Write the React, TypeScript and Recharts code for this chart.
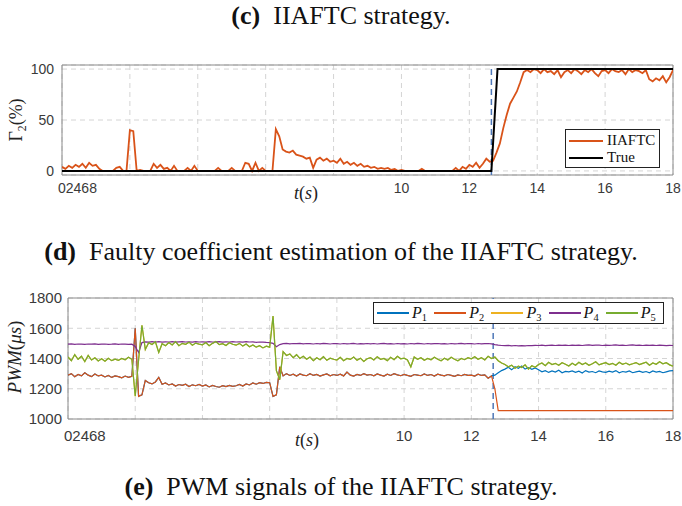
import {
  CartesianGrid,
  Legend,
  Line,
  LineChart,
  ReferenceArea,
  ReferenceLine,
  XAxis,
  YAxis,
} from "recharts";

// time grid (s), one sample every 0.1 s
const time = [
  0, 0.1, 0.2, 0.3, 0.4, 0.5, 0.6, 0.7, 0.8, 0.9,
  1, 1.1, 1.2, 1.3, 1.4, 1.5, 1.6, 1.7, 1.8, 1.9,
  2, 2.1, 2.2, 2.3, 2.4, 2.5, 2.6, 2.7, 2.8, 2.9,
  3, 3.1, 3.2, 3.3, 3.4, 3.5, 3.6, 3.7, 3.8, 3.9,
  4, 4.1, 4.2, 4.3, 4.4, 4.5, 4.6, 4.7, 4.8, 4.9,
  5, 5.1, 5.2, 5.3, 5.4, 5.5, 5.6, 5.7, 5.8, 5.9,
  6, 6.1, 6.2, 6.3, 6.4, 6.5, 6.6, 6.7, 6.8, 6.9,
  7, 7.1, 7.2, 7.3, 7.4, 7.5, 7.6, 7.7, 7.8, 7.9,
  8, 8.1, 8.2, 8.3, 8.4, 8.5, 8.6, 8.7, 8.8, 8.9,
  9, 9.1, 9.2, 9.3, 9.4, 9.5, 9.6, 9.7, 9.8, 9.9,
  10, 10.1, 10.2, 10.3, 10.4, 10.5, 10.6, 10.7, 10.8, 10.9,
  11, 11.1, 11.2, 11.3, 11.4, 11.5, 11.6, 11.7, 11.8, 11.9,
  12, 12.1, 12.2, 12.3, 12.4, 12.5, 12.6, 12.7, 12.8, 12.9,
  13, 13.1, 13.2, 13.3, 13.4, 13.5, 13.6, 13.7, 13.8, 13.9,
  14, 14.1, 14.2, 14.3, 14.4, 14.5, 14.6, 14.7, 14.8, 14.9,
  15, 15.1, 15.2, 15.3, 15.4, 15.5, 15.6, 15.7, 15.8, 15.9,
  16, 16.1, 16.2, 16.3, 16.4, 16.5, 16.6, 16.7, 16.8, 16.9,
  17, 17.1, 17.2, 17.3, 17.4, 17.5, 17.6, 17.7, 17.8, 17.9,
  18,
];

// (d) estimated faulty coefficient Gamma_2 (%)
const gammaEst = [
  4, 2, 5, 3, 6, 4, 7, 3, 8, 5,
  6, 2, 0, 0, 0, 0, 3, 4, 0, 0,
  40, 39, 0, 1, 0, 0, 0, 7, 3, 6,
  2, 3, 0, 5, 0, 0, 0, 3, 0, 5,
  0, 0, 0, 0, 0, 0, 3, 0, 0, 0,
  3, 0, 0, 0, 8, 7, 0, 8, 0, 3,
  0, 0, 0, 41, 34, 21, 19, 18, 20, 16,
  15, 14, 12, 13, 3, 11, 13, 10, 12, 9,
  10, 8, 12, 7, 9, 6, 8, 5, 7, 4,
  5, 3, 4, 2, 3, 2, 3, 1, 2, 0,
  1, 0, 0, 0, 0, 0, 2, 0, 0, 0,
  0, 0, 0, 0, 0, 0, 3, 0, 4, 2,
  6, 4, 8, 3, 7, 12, 9, 10, 18, 27,
  42, 55, 66, 72, 78, 87, 97, 99, 97, 100,
  99, 96, 100, 97, 98, 95, 99, 92, 97, 99,
  96, 100, 98, 95, 99, 97, 100, 96, 93, 98,
  99, 96, 100, 98, 97, 99, 95, 100, 97, 99,
  98, 96, 99, 90, 88, 91, 89, 93, 87, 92,
  99,
];

// true coefficient
const trueTime = [0, 12.65, 12.83, 18];
const trueValue = [0, 0, 100, 100];

// (e) PWM signals (us)
const p2 = [
  1290, 1300, 1280, 1295, 1285, 1305, 1290, 1280, 1298, 1285,
  1290, 1278, 1288, 1275, 1285, 1280, 1272, 1284, 1276, 1282,
  1600, 1150, 1160, 1255, 1240, 1232, 1245, 1275, 1230, 1238,
  1225, 1232, 1218, 1228, 1222, 1230, 1215, 1226, 1220, 1228,
  1218, 1225, 1212, 1222, 1215, 1210, 1220, 1214, 1222, 1216,
  1220, 1228, 1218, 1232, 1225, 1238, 1230, 1240, 1235, 1242,
  1240, 1150, 1160, 1345, 1285, 1300, 1288, 1296, 1284, 1298,
  1290, 1286, 1300, 1288, 1295, 1284, 1292, 1298, 1286, 1294,
  1288, 1296, 1285, 1310, 1290, 1284, 1295, 1288, 1300, 1290,
  1294, 1286, 1298, 1290, 1284, 1296, 1288, 1300, 1292, 1286,
  1295, 1288, 1282, 1294, 1290, 1286, 1298, 1288, 1294, 1284,
  1296, 1290, 1285, 1294, 1288, 1282, 1292, 1286, 1295, 1288,
  1290, 1284, 1296, 1288, 1292, 1270, 1285, 1200, 1055, 1055,
  1055, 1055, 1055, 1055, 1055, 1055, 1055, 1055, 1055, 1055,
  1055, 1055, 1055, 1055, 1055, 1055, 1055, 1055, 1055, 1055,
  1055, 1055, 1055, 1055, 1055, 1055, 1055, 1055, 1055, 1055,
  1055, 1055, 1055, 1055, 1055, 1055, 1055, 1055, 1055, 1055,
  1055, 1055, 1055, 1055, 1055, 1055, 1055, 1055, 1055, 1055,
  1055,
];

const p4 = [
  1495, 1497, 1494, 1496, 1495, 1493, 1496, 1495, 1497, 1494,
  1495, 1496, 1494, 1495, 1497, 1494, 1496, 1495, 1493, 1495,
  1480, 1440, 1505, 1510, 1508, 1511, 1509, 1512, 1508, 1510,
  1509, 1511, 1508, 1510, 1512, 1509, 1510, 1508, 1511, 1509,
  1510, 1508, 1511, 1509, 1510, 1512, 1508, 1510, 1509, 1511,
  1509, 1510, 1508, 1511, 1509, 1510, 1507, 1509, 1508, 1506,
  1505, 1500, 1478, 1492, 1498, 1500, 1497, 1499, 1498, 1500,
  1497, 1499, 1498, 1496, 1499, 1497, 1500, 1498, 1496, 1499,
  1498, 1496, 1499, 1497, 1498, 1500, 1496, 1498, 1497, 1499,
  1497, 1499, 1496, 1498, 1500, 1497, 1498, 1496, 1499, 1497,
  1498, 1496, 1499, 1497, 1500, 1498, 1496, 1499, 1497, 1498,
  1499, 1497, 1498, 1496, 1499, 1497, 1498, 1500, 1497, 1499,
  1498, 1496, 1499, 1497, 1498, 1499, 1497, 1492, 1488, 1486,
  1485, 1487, 1484, 1486, 1483, 1485, 1484, 1486, 1485, 1487,
  1486, 1488, 1485, 1487, 1489, 1486, 1488, 1487, 1489, 1486,
  1488, 1487, 1489, 1486, 1488, 1490, 1487, 1489, 1488, 1486,
  1489, 1487, 1488, 1490, 1487, 1489, 1486, 1488, 1490, 1487,
  1488, 1486, 1489, 1487, 1488, 1486, 1489, 1487, 1485, 1487,
  1486,
];

const p5 = [
  1410, 1385, 1425, 1395, 1415, 1380, 1420, 1390, 1405, 1384,
  1398, 1382, 1402, 1386, 1396, 1388, 1400, 1392, 1408, 1395,
  1150, 1390, 1620, 1460, 1505, 1492, 1510, 1440, 1498, 1485,
  1505, 1490, 1512, 1485, 1500, 1494, 1508, 1488, 1502, 1495,
  1490, 1506, 1485, 1500, 1512, 1492, 1498, 1486, 1504, 1494,
  1488, 1500, 1482, 1496, 1478, 1490, 1475, 1485, 1470, 1482,
  1475, 1680, 1320, 1260, 1445, 1420, 1430, 1405, 1425, 1400,
  1415, 1395, 1410, 1385, 1405, 1392, 1412, 1388, 1402, 1395,
  1390, 1408, 1385, 1400, 1394, 1410, 1388, 1402, 1380, 1398,
  1405, 1390, 1412, 1395, 1400, 1386, 1408, 1392, 1415, 1398,
  1402, 1390, 1345, 1410, 1395, 1405, 1388, 1400, 1392, 1408,
  1395, 1385, 1402, 1390, 1408, 1395, 1385, 1400, 1392, 1405,
  1398, 1412, 1395, 1405, 1390, 1415, 1400, 1410, 1385, 1370,
  1360, 1345, 1355, 1335, 1350, 1340, 1358, 1330, 1352, 1342,
  1360, 1370, 1352, 1375, 1360, 1368, 1355, 1372, 1362, 1350,
  1368, 1356, 1375, 1360, 1370, 1355, 1365, 1378, 1358, 1366,
  1372, 1360, 1368, 1355, 1375, 1362, 1370, 1358, 1365, 1373,
  1360, 1368, 1375, 1356, 1370, 1362, 1378, 1365, 1372, 1358,
  1350,
];

// P1 runs under P2 until the fault (t = 12.7 s onward read separately)
const p1AfterFault = [
  1290, 1305, 1320,
  1330, 1342, 1325, 1345, 1335, 1350, 1330, 1340, 1328, 1338,
  1325, 1312, 1320, 1308, 1318, 1310, 1322, 1306, 1315, 1312,
  1318, 1308, 1316, 1304, 1320, 1310, 1314, 1306, 1318, 1312,
  1308, 1316, 1310, 1320, 1305, 1314, 1310, 1318, 1306, 1312,
  1316, 1308, 1314, 1305, 1318, 1310, 1315, 1306, 1312, 1318,
  1320,
];
const p1 = [...p2.slice(0, 127), ...p1AfterFault];
// P3 is identical to P5 and hidden beneath it
const p3 = p5;

const xTicks = [0, 2, 4, 6, 8, 10, 12, 14, 16, 18];
const xTickLabels = ["02468", "", "", "", "", "10", "12", "14", "16", "18"];
const gammaTicks = [0, 50, 100];
const pwmTicks = [1000, 1200, 1400, 1600, 1800];
const faultTime = 12.65;

const SANS = "'Liberation Sans', Arial, Helvetica, sans-serif";
const SERIF = "'Liberation Serif', 'Times New Roman', serif";
const TICK = "#3a3a3a";
const BOX = "#8a8a8a";
const GRID = "#d4d4d4";
const COLORS = {
  p1: "#0072BD",
  p2: "#D95319",
  p3: "#EDB120",
  p4: "#7E2F8E",
  p5: "#77AC30",
};

const estRows = time.map((t, i) => ({ t, v: gammaEst[i] }));
const trueRows = trueTime.map((t, i) => ({ t, v: trueValue[i] }));
const pwmRows = time.map((t, i) => ({
  t,
  p1: p1[i],
  p2: p2[i],
  p3: p3[i],
  p4: p4[i],
  p5: p5[i],
}));

function timeTick(fontSize: number) {
  return (props: any) => {
    const { x, y, payload } = props;
    const idx = xTicks.indexOf(payload.value);
    const label = idx >= 0 ? xTickLabels[idx] : String(payload.value);
    if (!label) return <g />;
    const first = idx === 0;
    return (
      <text
        x={first ? x - 4 : x}
        y={y}
        dy="0.71em"
        textAnchor={first ? "start" : "middle"}
        fontSize={fontSize}
        fontFamily={SANS}
        fill={TICK}
      >
        {label}
      </text>
    );
  };
}

function Caption({ top, tag, text }: { top: number; tag: string; text: string }) {
  return (
    <div
      style={{
        position: "absolute",
        top,
        left: 0,
        width: 682,
        textAlign: "center",
        fontFamily: SERIF,
        fontSize: 26,
        lineHeight: "30px",
        whiteSpace: "pre",
        color: "#111",
      }}
    >
      <b>{tag}</b>
      {"  " + text}
    </div>
  );
}

function Overlay({ x, y, rotate, size, children }: any) {
  return (
    <div
      style={{
        position: "absolute",
        left: x,
        top: y,
        transform: `translate(-50%, -50%)${rotate ? " rotate(-90deg)" : ""}`,
        fontFamily: SERIF,
        fontSize: size,
        whiteSpace: "nowrap",
        color: "#222",
        lineHeight: 1,
      }}
    >
      {children}
    </div>
  );
}

const Sub = ({ children }: any) => (
  <span style={{ fontSize: "0.65em", position: "relative", top: "0.3em", fontStyle: "normal" }}>{children}</span>
);

function estLegend() {
  return (props: any) => (
    <div
      style={{
        border: "1.2px solid #222",
        background: "#fff",
        width: 95,
        height: 39,
        boxSizing: "border-box",
        padding: "2px 0 0 3px",
      }}
    >
      {(props.payload || []).map((e: any) => (
        <div key={e.value} style={{ display: "flex", alignItems: "center", height: 17 }}>
          <div style={{ width: 34, height: 2, background: e.color, marginRight: 4 }} />
          <span style={{ fontFamily: SERIF, fontSize: 15, color: "#111" }}>{e.value}</span>
        </div>
      ))}
    </div>
  );
}

function pwmLegend() {
  return (props: any) => (
    <div
      style={{
        border: "1.2px solid #222",
        background: "#fff",
        width: 291,
        height: 22,
        boxSizing: "border-box",
        display: "flex",
        alignItems: "center",
        paddingLeft: 3,
      }}
    >
      {(props.payload || []).map((e: any) => (
        <div key={e.value} style={{ display: "flex", alignItems: "center", width: 58 }}>
          <div style={{ width: 32, height: 1.5, background: e.color, marginRight: 3 }} />
          <span style={{ fontFamily: SERIF, fontSize: 16, fontStyle: "italic", color: "#111", lineHeight: 1 }}>
            {e.value.slice(0, 1)}
            <Sub>{e.value.slice(1)}</Sub>
          </span>
        </div>
      ))}
    </div>
  );
}

export default function App() {
  return (
    <div
      style={{
        position: "absolute",
        left: 0,
        top: 0,
        width: 682,
        height: 506,
        background: "#fff",
        overflow: "hidden",
      }}
    >
      <Caption top={1} tag="(c)" text="IIAFTC strategy." />

      <div style={{ position: "absolute", left: 0, top: 55 }}>
        <LineChart width={682} height={152} margin={{ top: 10, right: 9, bottom: 0, left: 0 }}>
          <CartesianGrid stroke={GRID} strokeDasharray="5 4" />
          <XAxis
            type="number"
            dataKey="t"
            domain={[0, 18]}
            ticks={xTicks}
            tick={timeTick(14)}
            tickSize={0}
            tickMargin={8}
            axisLine={false}
            height={32}
            allowDataOverflow
          />
          <YAxis
            type="number"
            domain={[-4, 104]}
            ticks={gammaTicks}
            width={62}
            tickSize={0}
            tickMargin={8}
            axisLine={false}
            tick={{ fontSize: 14, fontFamily: SANS, fill: TICK }}
            allowDataOverflow
          />
          <ReferenceLine x={faultTime} stroke="#4f78b8" strokeWidth={1.5} strokeDasharray="6 4" />
          <Line
            data={estRows}
            dataKey="v"
            name="IIAFTC"
            stroke={COLORS.p2}
            strokeWidth={1.8}
            dot={false}
            isAnimationActive={false}
          />
          <Line
            data={trueRows}
            dataKey="v"
            name="True"
            stroke="#000"
            strokeWidth={2}
            dot={false}
            isAnimationActive={false}
          />
          <ReferenceArea x1={0} x2={18} y1={-4} y2={104} fill="none" stroke={BOX} strokeWidth={1} />
          <Legend
            layout="vertical"
            align="center"
            verticalAlign="middle"
            content={estLegend()}
            wrapperStyle={{ left: 565, top: 74, width: 95, height: 39 }}
          />
        </LineChart>
      </div>
      <Overlay x={16} y={120} rotate size={18}>
        Γ<Sub>2</Sub>(%)
      </Overlay>
      <Overlay x={306} y={193} size={18}>
        <i>t</i>(<i>s</i>)
      </Overlay>

      <Caption top={237} tag="(d)" text="Faulty coefficient estimation of the IIAFTC strategy." />

      <div style={{ position: "absolute", left: 0, top: 288 }}>
        <LineChart width={682} height={166} data={pwmRows} margin={{ top: 10, right: 9, bottom: 0, left: 0 }}>
          <CartesianGrid stroke={GRID} strokeDasharray="5 4" />
          <XAxis
            type="number"
            dataKey="t"
            domain={[0, 18]}
            ticks={xTicks}
            tick={timeTick(15)}
            tickSize={0}
            tickMargin={11}
            axisLine={false}
            height={35}
            allowDataOverflow
          />
          <YAxis
            type="number"
            domain={[1000, 1800]}
            ticks={pwmTicks}
            width={68}
            tickSize={0}
            tickMargin={6}
            axisLine={false}
            tick={{ fontSize: 15, fontFamily: SANS, fill: TICK }}
            allowDataOverflow
          />
          <ReferenceLine x={faultTime} stroke="#4f78b8" strokeWidth={1.5} strokeDasharray="6 4" />
          <Line dataKey="p1" name="P1" stroke={COLORS.p1} strokeWidth={1.2} dot={false} isAnimationActive={false} />
          <Line dataKey="p2" name="P2" stroke={COLORS.p2} strokeWidth={1.2} dot={false} isAnimationActive={false} />
          <Line dataKey="p3" name="P3" stroke={COLORS.p3} strokeWidth={1.2} dot={false} isAnimationActive={false} />
          <Line dataKey="p4" name="P4" stroke={COLORS.p4} strokeWidth={1.2} dot={false} isAnimationActive={false} />
          <Line dataKey="p5" name="P5" stroke={COLORS.p5} strokeWidth={1.2} dot={false} isAnimationActive={false} />
          <ReferenceArea x1={0} x2={18} y1={1000} y2={1800} fill="none" stroke={BOX} strokeWidth={1} />
          <Legend
            layout="vertical"
            align="center"
            verticalAlign="middle"
            content={pwmLegend()}
            wrapperStyle={{ left: 373, top: 14, width: 291, height: 22 }}
          />
        </LineChart>
      </div>
      <Overlay x={14} y={357} rotate size={19}>
        <i>PWM</i>(<i>μs</i>)
      </Overlay>
      <Overlay x={307} y={440} size={18}>
        <i>t</i>(<i>s</i>)
      </Overlay>

      <Caption top={472} tag="(e)" text="PWM signals of the IIAFTC strategy." />
    </div>
  );
}
